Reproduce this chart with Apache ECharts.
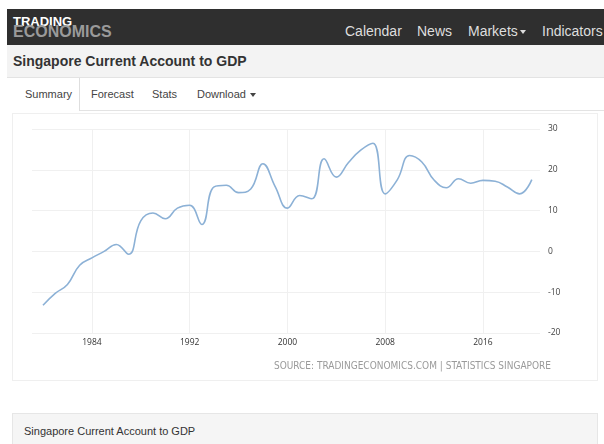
<!DOCTYPE html>
<html><head><meta charset="utf-8">
<script src="https://cdn.jsdelivr.net/npm/echarts@6/dist/echarts.min.js"></script>
<style>
html,body{margin:0;padding:0;width:604px;height:444px;overflow:hidden;background:#fff;font-family:"Liberation Sans",Arial,sans-serif;}
.abs{position:absolute;white-space:nowrap;}
#topbar{position:absolute;left:7px;top:9px;width:597px;height:36px;background:#2f2f2f;}
#titlebar{position:absolute;left:7px;top:45px;width:597px;height:32px;background:#f3f3f3;border-bottom:1px solid #e3e3e3;}
#tabrow{position:absolute;left:7px;top:78px;width:597px;height:32px;background:#fff;border-bottom:1px solid #e3e3e3;}
#tabactive{position:absolute;left:7px;top:78px;width:72px;height:33px;background:#fff;border-right:1px solid #dedede;}
#panel{position:absolute;left:12px;top:113px;width:584px;height:266px;border:1px solid #efefef;background:#fff;}
#lower{position:absolute;left:12px;top:413px;width:584px;height:40px;border:1px solid #e6e6e6;background:#f5f5f5;}
.caret{display:inline-block;width:0;height:0;border-top:4px solid currentColor;border-left:3.5px solid transparent;border-right:3.5px solid transparent;vertical-align:middle;margin-left:4px;}
</style></head>
<body>
<div id="topbar"></div>
<div class="abs" style="left:13px;top:15px;font-size:13px;line-height:13px;font-weight:bold;color:#fff;">TRADING</div>
<div class="abs" style="left:13px;top:23.5px;font-size:16px;line-height:16px;font-weight:bold;color:#9a9a9a;">ECONOMICS</div>
<div class="abs" style="left:345px;top:24px;font-size:14px;line-height:14px;color:#dedede;">Calendar</div>
<div class="abs" style="left:417px;top:24px;font-size:14px;line-height:14px;color:#dedede;">News</div>
<div class="abs" style="left:468px;top:24px;font-size:14px;line-height:14px;color:#dedede;">Markets<span class="caret" style="margin-left:2px"></span></div>
<div class="abs" style="left:542px;top:24px;font-size:14px;line-height:14px;color:#dedede;">Indicators</div>
<div id="titlebar"></div>
<div class="abs" style="left:13px;top:54px;font-size:14px;line-height:14px;font-weight:bold;color:#333;">Singapore Current Account to GDP</div>
<div id="tabrow"></div>
<div id="tabactive"></div>
<div class="abs" style="left:25px;top:88.7px;font-size:11px;line-height:11px;color:#444;">Summary</div>
<div class="abs" style="left:91px;top:88.7px;font-size:11px;line-height:11px;color:#444;">Forecast</div>
<div class="abs" style="left:152px;top:88.7px;font-size:11px;line-height:11px;color:#444;">Stats</div>
<div class="abs" style="left:197px;top:88.7px;font-size:11px;line-height:11px;color:#444;">Download<span class="caret"></span></div>
<div id="panel"></div>
<div id="chart" style="position:absolute;left:12px;top:113px;width:585px;height:267px;"></div>
<div id="lower"></div>
<div class="abs" style="left:24px;top:426px;font-size:11px;line-height:11px;color:#333;">Singapore Current Account to GDP</div>
<script>
const years = [1980,1981,1982,1983,1984,1985,1986,1987,1988,1989,
  1990,1991,1992,1993,1994,1995,1996,1997,1998,1999,
  2000,2001,2002,2003,2004,2005,2006,2007,2008,2009,
  2010,2011,2012,2013,2014,2015,2016,2017,2018,2019,2020];
const values = [-13.2,-10.3,-8.1,-3.4,-1.6,0.0,1.7,-0.7,7.5,9.4,
  8.0,10.6,11.3,6.6,15.8,16.2,14.4,15.3,21.5,15.9,
  10.6,13.7,12.9,22.7,18.2,21.8,24.8,26.5,14.1,17.6,
  23.5,21.9,17.5,15.6,17.8,16.7,17.4,17.2,15.8,14.1,17.6];
const xTickLabels = [1984,1992,2000,2008,2016];
const sourceText = 'SOURCE: TRADINGECONOMICS.COM | STATISTICS SINGAPORE';

const chart = echarts.init(document.getElementById('chart'), null, {renderer:'canvas'});
chart.setOption({
  animation:false,
  grid:{left:20,right:57,top:16,bottom:47},
  xAxis:{
    type:'value', min:1979.1, max:2020.67,
    axisLine:{show:false},
    axisTick:{show:false, customValues:xTickLabels},
    axisLabel:{customValues:xTickLabels, color:'#333', fontSize:8.5, fontFamily:'Open Sans', margin:5, formatter:v=>String(v)},
    splitLine:{show:true, lineStyle:{color:'#f0f0f0', width:1}}
  },
  yAxis:{
    type:'value', position:'right', min:-20, max:30, interval:10,
    axisLine:{show:false}, axisTick:{show:false},
    axisLabel:{color:'#444', fontSize:8.5, fontFamily:'Open Sans', margin:8},
    splitLine:{lineStyle:{color:'#f0f0f0', width:1}}
  },
  graphic:[{type:'text', right:46, top:248, style:{text:sourceText, fill:'#9a9a9a', font:'10px "Liberation Sans Narrow", "DejaVu Sans Condensed", sans-serif'}}],
  series:[{
    type:'line', smooth:0.45, showSymbol:false,
    lineStyle:{color:'#8cb1d6', width:1.6},
    data: years.map((y,i)=>[y, values[i]])
  }]
});
</script>
</body></html>
